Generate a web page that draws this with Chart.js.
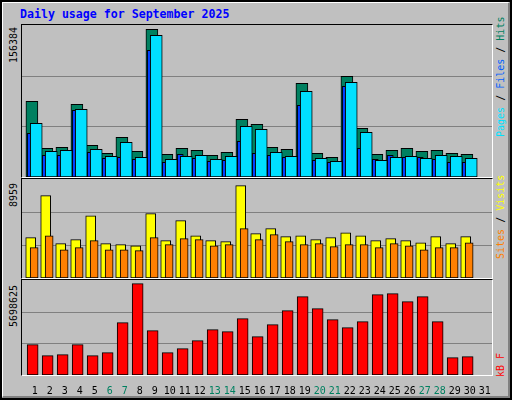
<!DOCTYPE html>
<html><head><meta charset="utf-8">
<script src="https://cdn.jsdelivr.net/npm/chart.js@4"></script>
<style>
html,body{margin:0;padding:0;}
#wrap{position:relative;width:508px;height:396px;background:#c0c0c0;border:2px solid #000;overflow:hidden;font-family:"DejaVu Sans Mono",monospace;}
#wrap:before{content:"";position:absolute;left:0;top:0;right:0;bottom:0;border-top:1px solid #fff;border-left:1px solid #fff;border-right:2px solid #808080;border-bottom:2px solid #808080;}
.panel{position:absolute;left:19px;width:470px;border-top:1px solid #000;border-left:1px solid #000;border-right:1px solid #fff;border-bottom:1px solid #fff;}
.panel canvas{position:absolute;left:0;top:0;}
#title{position:absolute;left:18px;top:5px;color:#0000ff;font-weight:bold;font-size:11.6px;}
.rot{position:absolute;transform-origin:0 0;transform:rotate(-90deg);font-size:10px;white-space:nowrap;}
</style></head><body>
<div id="wrap">
<div id="title">Daily usage for September 2025</div>
<div class="panel" style="top:22px;height:152px"><canvas id="c1" width="470" height="152"></canvas></div>
<div class="panel" style="top:176px;height:99px"><canvas id="c2" width="470" height="99"></canvas></div>
<div class="panel" style="top:277px;height:95px"><canvas id="c3" width="470" height="117"></canvas></div>
<div class="rot" style="left:6px;top:61px;color:#000">156384</div>
<div class="rot" style="left:6px;top:205px;color:#000">8959</div>
<div class="rot" style="left:6px;top:325px;color:#000">5698625</div>
<div class="rot" style="left:493px;top:135px"><span style="color:#00e0ff">Pages</span><span style="color:#000"> / </span><span style="color:#0060ff">Files</span><span style="color:#000"> / </span><span style="color:#008060">Hits</span></div>
<div class="rot" style="left:493px;top:257px"><span style="color:#ff8000">Sites</span><span style="color:#000"> / </span><span style="color:#ffff00">Visits</span></div>
<div class="rot" style="left:493px;top:375px"><span style="color:#ff0000">kB F</span></div>
</div>
<script>
const days=["1","2","3","4","5","6","7","8","9","10","11","12","13","14","15","16","17","18","19","20","21","22","23","24","25","26","27","28","29","30","31"];
const weekendDays=[6,7,13,14,20,21,27,28];
const hits=[80150,30390,31450,76970,33560,25090,42030,27210,156384,24030,30390,28270,22970,26150,61090,55800,31450,29330,99200,25090,20860,106620,51560,24030,28270,30390,27210,28270,25090,24030,0];
const files=[56860,27210,28270,71680,29330,21920,36740,20860,150030,18740,21920,22970,18740,21920,53680,50500,26150,21920,90740,19800,16620,100270,47330,17680,20860,21920,19800,22970,21920,19800,0];
const pages=[46270,22970,22970,70620,26150,19800,20860,18740,134150,15570,24030,19800,16620,17680,37800,25090,22970,20860,75910,17680,15570,96030,30390,18740,22970,20860,20860,18740,15570,15570,0];
const visits=[3910,7980,3330,3720,6040,3330,3230,3130,6240,3620,5560,4100,3620,3520,8959,4300,4780,4010,4100,3720,3910,4390,4100,3620,3810,3620,3420,4010,3330,4010,0];
const sites=[2940,4100,2740,2940,3620,2740,2740,2650,3910,3230,3810,3720,3130,3230,4780,3720,4200,3520,3230,3330,3040,3230,3230,2940,3330,3130,2740,2940,2940,3420,0];
const kbytes=[1892600,1206300,1268700,1892600,1206300,1393500,3265300,5698625,2766100,1393500,1643000,2142200,2828500,2703700,3514900,2391800,3140500,4014000,4887500,4138800,3452500,2953300,3327700,5012300,5074700,4575600,4887500,3327700,1081500,1143900,0];

function pts(arr,off){return arr.map((v,i)=>({x:i+off,y:v}));}
const gridPlugin={id:'g',beforeDatasetsDraw(ch){const y=ch.scales.y,c=ch.ctx,a=ch.chartArea;c.save();c.strokeStyle='#808080';c.lineWidth=1;
 [1,2].forEach(k=>{const p=Math.round(y.getPixelForValue(y.max*k/3))+0.5;c.beginPath();c.moveTo(a.left,p);c.lineTo(a.right,p);c.stroke();});c.restore();}};
const labelPlugin={id:'l',afterDraw(ch){const x=ch.scales.x,c=ch.ctx;c.save();c.font='10px "DejaVu Sans Mono"';c.textAlign='center';c.textBaseline='middle';
 days.forEach((d,i)=>{c.fillStyle=weekendDays.includes(i+1)?'#008060':'#000';c.fillText(d,x.getPixelForValue(i+0.85),111);});c.restore();}};
function make(id,datasets,max,extra,plugins){
 return new Chart(document.getElementById(id),{type:'bar',data:{datasets},
 options:{responsive:false,animation:false,events:[],grouped:false,layout:{padding:{left:0,right:0,top:0,bottom:extra}},
 plugins:{legend:{display:false},tooltip:{enabled:false}},
 scales:{x:{type:'linear',min:0,max:470/15,offset:false,display:false},y:{min:0,max:max,display:false}}},plugins});
}
function ds(arr,off,color,w,order){return {data:pts(arr,off),backgroundColor:color,borderColor:'#000',borderWidth:1,barThickness:w,order,grouped:false,borderSkipped:false};}
make('c1',[ds(hits,0.66,'#008060',12,2),ds(pages,0.55,'#0040ff',6,1),ds(files,0.95,'#00e0ff',12,0)],156384*152/147.7,0,[gridPlugin]);
make('c2',[ds(visits,0.58,'#ffff00',10,1),ds(sites,0.81,'#ff8000',8,0)],8959*99/92.4,0,[gridPlugin]);
make('c3',[ds(kbytes,0.71,'#ff0000',11,0)],5698625*95/91.3,22,[gridPlugin,labelPlugin]);
</script>
</body></html>
